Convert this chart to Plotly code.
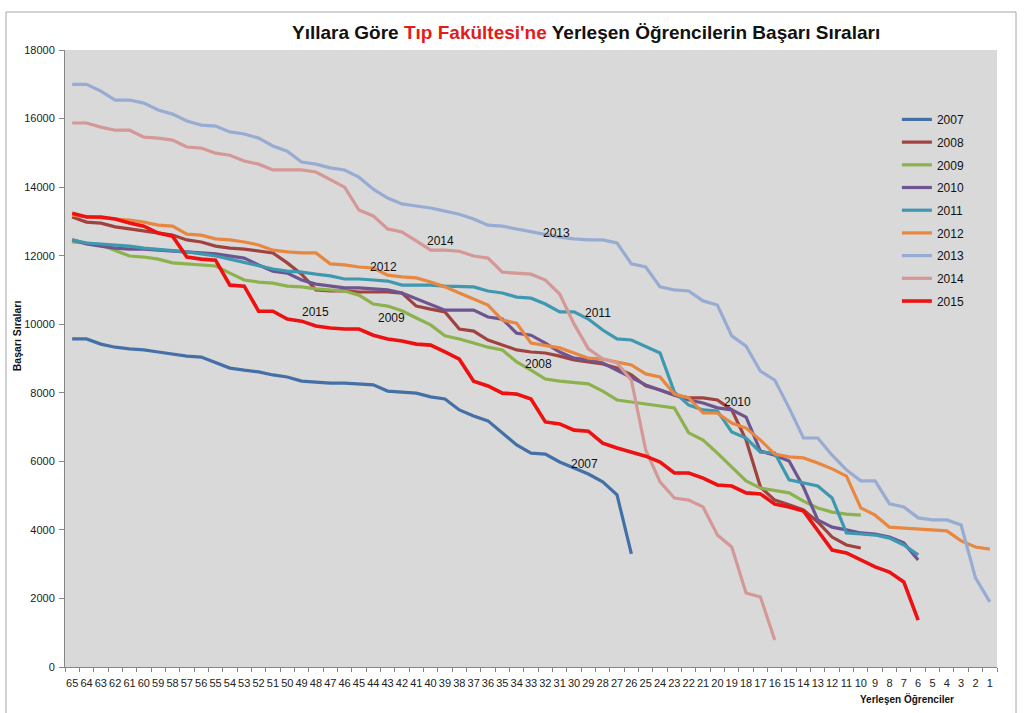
import plotly.graph_objects as go

positions = list(range(65, 0, -1))
y_ticks = [0, 2000, 4000, 6000, 8000, 10000, 12000, 14000, 16000, 18000]

s2007 = [9570, 9570, 9420, 9330, 9280, 9250, 9190, 9130, 9070, 9040, 8870, 8720, 8660, 8610, 8520, 8460,
         8340, 8310, 8280, 8280, 8260, 8230, 8050, 8020, 7990, 7880, 7820, 7500, 7320, 7180, 6830, 6480,
         6240, 6210, 5980, 5800, 5630, 5400, 5020, 3300]
s2008 = [13130, 12980, 12950, 12840, 12780, 12720, 12660, 12600, 12460, 12400, 12280, 12220, 12190, 12140,
         12080, 11790, 11460, 11000, 10970, 10970, 10940, 10940, 10940, 10910, 10530, 10440, 10360, 9860,
         9800, 9540, 9390, 9250, 9190, 9160, 9070, 8960, 8900, 8840, 8720, 8520, 8200, 8080, 7930, 7850,
         7850, 7790, 7500, 6620, 5250, 4870, 4730, 4580, 4230, 3790, 3560, 3470]
s2009 = [12400, 12370, 12310, 12160, 11990, 11960, 11900, 11790, 11760, 11730, 11700, 11490, 11290, 11230,
         11200, 11110, 11090, 11030, 11000, 10970, 10850, 10590, 10530, 10390, 10180, 9980, 9660, 9570,
         9450, 9330, 9250, 8900, 8660, 8400, 8340, 8310, 8260, 8050, 7790, 7730, 7670, 7610, 7560, 6830,
         6620, 6240, 5830, 5430, 5220, 5160, 5080, 4840, 4640, 4520, 4460, 4430]
s2010 = [12460, 12340, 12280, 12220, 12190, 12190, 12160, 12140, 12110, 12080, 12050, 11990, 11930, 11730,
         11550, 11490, 11290, 11170, 11110, 11060, 11060, 11030, 11000, 10910, 10740, 10560, 10410, 10410,
         10410, 10210, 10150, 9740, 9680, 9450, 9190, 9010, 8960, 8870, 8660, 8460, 8230, 8080, 7930, 7790,
         7700, 7560, 7500, 7290, 6300, 6180, 6010, 5250, 4290, 4080, 4000, 3910, 3880, 3790, 3620, 3120]
s2011 = [12460, 12370, 12340, 12310, 12280, 12220, 12190, 12140, 12110, 12050, 11990, 11900, 11810, 11700,
         11610, 11550, 11520, 11460, 11410, 11320, 11320, 11290, 11260, 11140, 11140, 11140, 11110, 11110,
         11090, 10970, 10910, 10790, 10760, 10590, 10360, 10360, 10150, 9830, 9570, 9540, 9360, 9160, 8020,
         7640, 7500, 7470, 6860, 6680, 6270, 6240, 5460, 5370, 5280, 4930, 3910, 3880, 3850, 3760, 3560, 3270]
s2012 = [13180, 13130, 13100, 13070, 13040, 12980, 12890, 12860, 12630, 12600, 12490, 12460, 12400, 12310,
         12160, 12110, 12080, 12080, 11760, 11730, 11670, 11640, 11430, 11380, 11350, 11230, 11090, 10910,
         10730, 10560, 10120, 10030, 9450, 9390, 9310, 9160, 9010, 8980, 8900, 8810, 8550, 8460, 7960, 7850,
         7410, 7410, 7120, 6970, 6620, 6210, 6130, 6100, 5950, 5780, 5570, 4640, 4430, 4080, 4050, 4030,
         4000, 3970, 3680, 3500, 3440]
s2013 = [17000, 17000, 16800, 16540, 16540, 16450, 16250, 16130, 15930, 15810, 15780, 15610, 15550, 15430,
         15200, 15050, 14730, 14670, 14560, 14500, 14290, 13940, 13680, 13510, 13450, 13390, 13300, 13210,
         13070, 12890, 12860, 12780, 12690, 12600, 12540, 12490, 12460, 12460, 12370, 11760, 11670, 11090,
         11000, 10970, 10680, 10560, 9660, 9360, 8630, 8370, 7560, 6680, 6680, 6180, 5750, 5430, 5430, 4760,
         4670, 4350, 4290, 4290, 4140, 2600, 1900]
s2014 = [15870, 15870, 15750, 15660, 15660, 15460, 15430, 15370, 15170, 15140, 14990, 14930, 14760, 14670,
         14500, 14500, 14500, 14440, 14230, 14000, 13330, 13160, 12780, 12690, 12430, 12160, 12160, 12130,
         11990, 11930, 11520, 11490, 11460, 11290, 10880, 10010, 9280, 8990, 8870, 8370, 6330, 5400, 4930,
         4870, 4670, 3850, 3500, 2160, 2040, 790]
s2015 = [13240, 13130, 13130, 13070, 12950, 12860, 12660, 12570, 11960, 11900, 11870, 11140, 11110, 10380,
         10380, 10150, 10090, 9950, 9890, 9860, 9860, 9680, 9570, 9510, 9420, 9390, 9190, 8980, 8340, 8200,
         7990, 7960, 7820, 7150, 7090, 6910, 6880, 6530, 6390, 6270, 6150, 5980, 5660, 5660, 5510, 5310,
         5280, 5080, 5050, 4750, 4670, 4550, 4000, 3410, 3330, 3120, 2920, 2770, 2480, 1370]

series = [
    ("2007", s2007, "#4470A7", 3.2),
    ("2008", s2008, "#A04240", 3.2),
    ("2009", s2009, "#8CB24E", 3.2),
    ("2010", s2010, "#6E5491", 3.2),
    ("2011", s2011, "#3E98B0", 3.2),
    ("2012", s2012, "#E8873F", 3.2),
    ("2013", s2013, "#98ACD3", 3.2),
    ("2014", s2014, "#D49896", 3.2),
    ("2015", s2015, "#EE1111", 3.6),
]

# inline label placements (rank position, value)
inline_labels = [
    ("2013", 31.25, 12660), ("2014", 39.3, 12430), ("2012", 43.3, 11670),
    ("2015", 48.0, 10360), ("2009", 42.7, 10180), ("2011", 28.3, 10330),
    ("2008", 32.5, 8840), ("2010", 18.6, 7730), ("2007", 29.3, 5920),
]

FONT = "Liberation Sans, Arial, sans-serif"

fig = go.Figure()
for i, (name, vals, color, w) in enumerate(series):
    fig.add_trace(go.Scatter(
        x=positions[:len(vals)], y=vals, mode="lines", name=name,
        line=dict(color=color, width=w), legendgroup=name,
        hoverinfo="skip",
    ))

annotations = []
for txt, xv, yv in inline_labels:
    annotations.append(dict(x=xv, y=yv, xref="x", yref="y", text=txt, showarrow=False,
                            font=dict(family=FONT, size=12, color="#111111")))

annotations.append(dict(
    x=0.559, y=1.0276, xref="paper", yref="paper", xanchor="center", yanchor="middle",
    text="<b>Yıllara Göre <span style='color:#E31B1B'>Tıp Fakültesi'ne</span> Yerleşen Öğrencilerin Başarı Sıraları</b>",
    showarrow=False, font=dict(family=FONT, size=19, color="#111111")))
annotations.append(dict(
    x=-0.0515, y=0.536, xref="paper", yref="paper", xanchor="center", yanchor="middle",
    text="<b>Başarı Sıraları</b>", textangle=-90, showarrow=False,
    font=dict(family=FONT, size=10.5, color="#111111")))
annotations.append(dict(
    x=0.9034, y=-0.0519, xref="paper", yref="paper", xanchor="center", yanchor="middle",
    text="<b>Yerleşen Öğrenciler</b>", showarrow=False,
    font=dict(family=FONT, size=10, color="#111111")))

fig.update_layout(
    width=1024, height=713,
    margin=dict(l=65, r=27, t=50, b=46, pad=0),
    paper_bgcolor="white", plot_bgcolor="#D9D9D9",
    font=dict(family=FONT, size=11, color="#222222"),
    showlegend=True,
    legend=dict(x=0.8926, y=0.911, xanchor="left", yanchor="top",
                bgcolor="rgba(0,0,0,0)", font=dict(family=FONT, size=12, color="#111111"),
                tracegroupgap=3.7, itemwidth=30),
    annotations=annotations,
    shapes=[dict(type="rect", xref="paper", yref="paper",
                 x0=(6 - 65) / 932, x1=(1016 - 65) / 932, y0=-0.2, y1=(667 - 12) / 617,
                 line=dict(color="#A6A6A6", width=1), fillcolor="rgba(0,0,0,0)", layer="below")],
)

fig.update_xaxes(
    range=[65.5, 0.5], tickmode="array", tickvals=positions, ticktext=[str(p) for p in positions],
    tickangle=0, ticks="", showgrid=False, zeroline=False,
    showline=True, linecolor="#868686", linewidth=1, ticklabelstandoff=6,
    tickfont=dict(family=FONT, size=11, color="#222222"),
    minor=dict(tick0=0.5, dtick=1, ticks="outside", ticklen=4, tickcolor="#868686", showgrid=False),
)
fig.update_yaxes(
    range=[0, 18000], tickmode="array", tickvals=y_ticks, ticktext=[str(v) for v in y_ticks],
    ticks="outside", ticklen=5, tickcolor="#868686", showgrid=False, zeroline=False,
    showline=True, linecolor="#868686", linewidth=1, ticklabelstandoff=2,
    tickfont=dict(family=FONT, size=11, color="#222222"),
)

fig.write_html("out.html")
